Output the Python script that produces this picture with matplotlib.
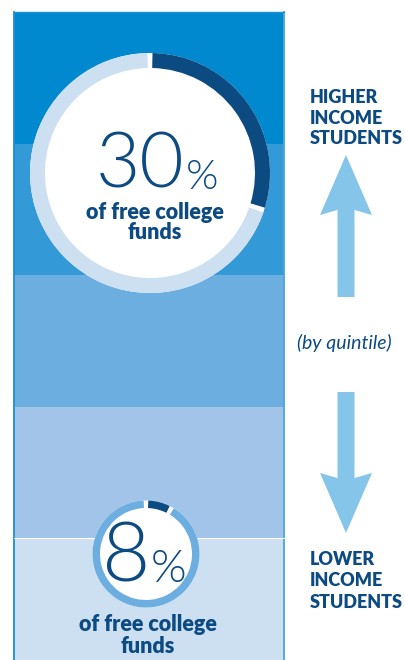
import numpy as np
import matplotlib
matplotlib.use("Agg")
import matplotlib.pyplot as plt
from matplotlib.patches import Wedge

# Data
quintiles = ["Top quintile", "4th quintile", "3rd quintile", "2nd quintile", "Bottom quintile"]
band_colors = ["#0089cf", "#3399d7", "#6daee0", "#a1c4e8", "#cde0f2"]
top_share = 30      # % of free college funds to highest quintile
bottom_share = 8    # % of free college funds to lowest quintile
share_label = ["of free college", "funds"]
high_label = ["HIGHER", "INCOME", "STUDENTS"]
low_label = ["LOWER", "INCOME", "STUDENTS"]
middle_label = "(by quintile)"

DARK = "#0c4a82"
ARROW = "#85c5e9"
FONT = "Lato"

W, H = 406, 660
fig = plt.figure(figsize=(W / 100, H / 100), dpi=100)
ax = fig.add_axes([0, 0, 1, 1])
ax.set_xlim(0, W)
ax.set_ylim(H, 0)
ax.axis("off")

# quintile bands (pixel-like coordinates, y grows down)
panel_left, panel_right, panel_top, band_h = 14, 284, 12, 131.5
ax.bar([(panel_left + panel_right) / 2] * len(quintiles), [band_h] * len(quintiles),
       bottom=[panel_top + i * band_h for i in range(len(quintiles))],
       width=panel_right - panel_left, color=band_colors, edgecolor="none", zorder=1)
ax.plot([panel_left, panel_left], [panel_top, H], color="#1a8fd6", lw=1.3, zorder=2)
ax.plot([panel_right, panel_right], [panel_top, H], color="#4aa5dc", lw=1.3, zorder=2)
ax.plot([panel_left, panel_right], [panel_top, panel_top], color="#1a8fd6", lw=1.0, zorder=2)
ax.plot([panel_left, panel_right], [panel_top + 4 * band_h] * 2, color="white", lw=0.8, zorder=2)


def donut(cx, cy, r, width, share, ring_color, gap=1.2):
    # visual 12 o'clock is -90 in data angles (inverted y), clockwise = increasing angle
    a0 = -90
    a1 = a0 + 360 * share / 100
    ax.add_patch(Wedge((cx, cy), r, 0, 360, facecolor="white", edgecolor="none", zorder=3))
    ax.add_patch(Wedge((cx, cy), r, a0 + gap, a1 - gap, width=width,
                       facecolor=DARK, edgecolor="none", zorder=4))
    ax.add_patch(Wedge((cx, cy), r, a1 + gap, a0 + 360 - gap, width=width,
                       facecolor=ring_color, edgecolor="none", zorder=4))


donut(150, 173, 120, 15, top_share, "#cde0f2")
donut(146, 554, 53.5, 7.5, bottom_share, "#6daee0", gap=2.5)

# big numbers
ax.text(184, 188, f"{top_share}", ha="right", va="baseline", fontsize=55,
        family=FONT, weight=300, color=DARK, zorder=5)
ax.text(186, 189, "%", ha="left", va="baseline", fontsize=30,
        family=FONT, weight=300, color=DARK, zorder=5)
ax.text(150, 582, f"{bottom_share}", ha="right", va="baseline", fontsize=60,
        family=FONT, weight=300, color=DARK, zorder=5)
ax.text(151, 582, "%", ha="left", va="baseline", fontsize=33,
        family=FONT, weight=300, color=DARK, zorder=5)

for i, s in enumerate(share_label):
    ax.text(155, 219 + i * 20, s, ha="center", va="baseline", fontsize=15.5,
            family=FONT, weight="heavy", color=DARK, zorder=5)
    ax.text(148, 631 + i * 22, s, ha="center", va="baseline", fontsize=15.5,
            family=FONT, weight="heavy", color=DARK, zorder=5)

# side labels
for i, s in enumerate(high_label):
    ax.text(310, 103 + i * 20.5, s, ha="left", va="baseline", fontsize=13,
            family=FONT, weight="heavy", color=DARK)
for i, s in enumerate(low_label):
    ax.text(310, 565 + i * 21.5, s, ha="left", va="baseline", fontsize=13,
            family=FONT, weight="heavy", color=DARK)
ax.text(344, 343, middle_label, ha="center", va="center", fontsize=14,
        family=FONT, style="italic", color=DARK)


def arrow(cx, tip, head_end, shaft_end, head_half=26, shaft_half=8.5, sweep=5):
    d = 1 if shaft_end > tip else -1
    xs = [cx, cx + head_half, cx + shaft_half, cx + shaft_half,
          cx - shaft_half, cx - shaft_half, cx - head_half]
    ys = [tip, head_end, head_end - d * sweep, shaft_end,
          shaft_end, head_end - d * sweep, head_end]
    ax.fill(xs, ys, color=ARROW, lw=0)


arrow(346, 155, 215, 297)
arrow(346, 533, 473, 392)

fig.savefig("out.png", dpi=100)
